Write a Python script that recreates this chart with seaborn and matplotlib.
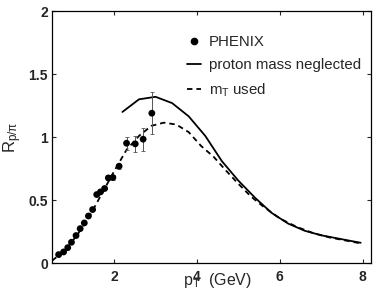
import matplotlib
matplotlib.use("Agg")
import matplotlib.pyplot as plt
import seaborn as sns
import pandas as pd
import numpy as np
from matplotlib.lines import Line2D

# PHENIX data
phenix_pt = [0.66, 0.78, 0.88, 0.97, 1.08, 1.18, 1.28, 1.38, 1.48, 1.58, 1.67, 1.77,
             1.86, 1.97, 2.12, 2.30, 2.51, 2.70, 2.91]
phenix_r = [0.069, 0.090, 0.124, 0.167, 0.220, 0.275, 0.320, 0.375, 0.426, 0.545, 0.566,
            0.593, 0.677, 0.680, 0.770, 0.952, 0.947, 0.984, 1.19]
phenix_err = [0.0, 0.0, 0.0, 0.0, 0.0, 0.0, 0.0, 0.0, 0.0, 0.0, 0.0, 0.0,
              0.02, 0.02, 0.02, 0.05, 0.066, 0.09, 0.165]

# proton mass neglected
solid_pt = [2.2, 2.6, 3.0, 3.4, 3.8, 4.2, 4.6, 5.0, 5.4, 5.8, 6.2, 6.6, 7.0, 7.4, 7.8, 7.95]
solid_r = [1.20, 1.30, 1.32, 1.27, 1.165, 1.01, 0.81, 0.655, 0.52, 0.40, 0.315, 0.258,
           0.222, 0.197, 0.172, 0.163]

# mT used
dash_pt = [0.5, 0.8, 1.1, 1.4, 1.7, 2.0, 2.3, 2.6, 2.9, 3.2, 3.5, 3.8, 4.1, 4.4, 4.7,
           5.0, 5.3, 5.6, 6.0, 6.4, 6.8, 7.2, 7.6, 7.95]
dash_r = [0.02, 0.10, 0.22, 0.37, 0.55, 0.73, 0.90, 1.01, 1.09, 1.115, 1.10, 1.04, 0.93,
          0.845, 0.735, 0.63, 0.53, 0.45, 0.355, 0.29, 0.24, 0.205, 0.18, 0.158]

xticks = [2, 4, 6, 8]
yticks = [0, 0.5, 1, 1.5, 2]
ytick_labels = ["0", "0.5", "1", "1.5", "2"]

sns.set_style("ticks")
plt.rcParams['font.family'] = ['Liberation Sans', 'DejaVu Sans']
plt.rcParams['mathtext.fontset'] = 'custom'
plt.rcParams['mathtext.rm'] = 'Liberation Sans'
plt.rcParams['mathtext.it'] = 'Liberation Sans:italic'

fig = plt.figure(figsize=(3.74, 2.98), dpi=100)
ax = fig.add_axes([0.139, 0.1164, 0.853, 0.8466])

df_solid = pd.DataFrame({"pt": solid_pt, "r": solid_r})
df_dash = pd.DataFrame({"pt": dash_pt, "r": dash_r})
sns.lineplot(data=df_solid, x="pt", y="r", ax=ax, color="black", lw=1.3, sort=False)
sns.lineplot(data=df_dash, x="pt", y="r", ax=ax, color="black", lw=1.3,
             linestyle=(0, (3, 2.2)), sort=False)

ax.errorbar(phenix_pt, phenix_r, yerr=phenix_err, fmt="none", ecolor="#555555",
            elinewidth=0.7, capsize=1.5, capthick=0.6)
sns.scatterplot(x=phenix_pt, y=phenix_r, ax=ax, color="black", s=24, edgecolor="none", zorder=5)

ax.set_xlim(0.5, 8.2)
ax.set_ylim(0, 2)
ax.set_xticks(xticks)
ax.set_xticklabels([str(t) for t in xticks])
ax.set_yticks(yticks)
ax.set_yticklabels(ytick_labels)
ax.tick_params(direction="in", length=3, width=0.8, top=True, right=True,
               labelsize=10)
ax.tick_params(axis="x", pad=5)
ax.tick_params(axis="y", pad=3)
for lbl in ax.get_xticklabels() + ax.get_yticklabels():
    lbl.set_fontweight("bold")
for s in ax.spines.values():
    s.set_linewidth(0.9)
    s.set_color("black")

ax.set_xlabel(r"p$_\mathrm{T}$  (GeV)", fontsize=11.5)
ax.xaxis.set_label_coords(0.518, -0.03)
ax.set_ylabel(r"R$_\mathrm{p/π}$", fontsize=12)
ax.yaxis.set_label_coords(-0.088, 0.5)

handles = [
    Line2D([], [], marker="o", color="black", linestyle="none", markersize=4.5),
    Line2D([], [], color="black", lw=1.3),
    Line2D([], [], color="black", lw=1.3, linestyle=(0, (3, 2.2))),
]
labels = ["PHENIX", "proton mass neglected", r"m$_\mathrm{T}$ used"]
ax.legend(handles, labels, loc="upper left", bbox_to_anchor=(0.424, 0.905), frameon=False,
          fontsize=10.8, handlelength=0.9, handletextpad=0.55, labelspacing=0.62,
          borderaxespad=0, borderpad=0)

fig.savefig("out.png", dpi=100)
